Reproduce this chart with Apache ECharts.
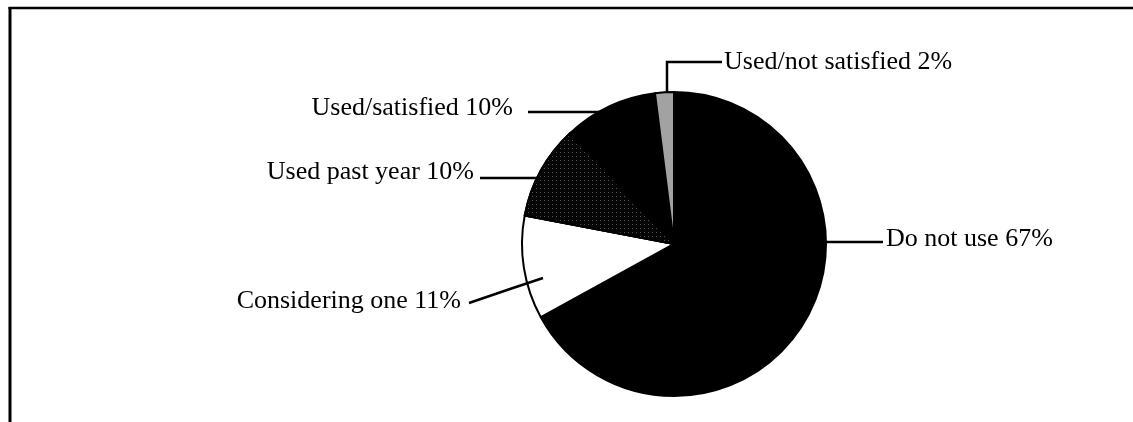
<!DOCTYPE html>
<html>
<head>
<meta charset="utf-8">
<style>
  html, body { margin: 0; padding: 0; background: #fff; }
  #chart { width: 1133px; height: 422px; }
</style>
<script src="https://cdn.jsdelivr.net/npm/echarts@6/dist/echarts.min.js"></script>
</head>
<body>
<div id="chart"></div>
<script>
// ---- data ----
const categories = ['Do not use', 'Considering one', 'Used past year', 'Used/satisfied', 'Used/not satisfied'];
const values = [67, 11, 10, 10, 2];

// ---- styling / layout (not data) ----
const sliceColors = ['#000000', '#ffffff', '#050505', '#000000', '#a2a2a2'];
const pieCenter = [674, 244];
const pieRadius = 152;
// label anchor: [x, y, align], leader points
const labelLayouts = [
  { x: 886, y: 239, align: 'left',  pts: [[826, 242], [855, 242], [883, 242]] },
  { x: 461, y: 301, align: 'right', pts: [[543, 278], [510, 289], [469, 303]] },
  { x: 474, y: 172, align: 'right', pts: [[538, 178], [510, 178], [480, 178]] },
  { x: 513, y: 108, align: 'right', pts: [[600, 112], [565, 112], [528, 112]] },
  { x: 724, y: 62,  align: 'left',  pts: [[667, 92], [667, 62], [722, 62]] }
];

const chart = echarts.init(document.getElementById('chart'), null, { renderer: 'canvas' });

const sliceData = categories.map((name, i) => {
  const item = {
    name: name,
    value: values[i],
    itemStyle: { color: sliceColors[i] }
  };
  if (i === 2) {
    item.itemStyle.decal = {
      symbol: 'rect',
      symbolSize: 1,
      dashArrayX: [1, 3],
      dashArrayY: [1, 3],
      color: 'rgba(120,120,120,0.7)',
      rotation: 0
    };
  }
  return item;
});

const labelData = categories.map((name, i) => ({ name: name, value: values[i] }));

chart.setOption({
  backgroundColor: '#ffffff',
  animation: false,
  graphic: [
    { type: 'line', shape: { x1: 8.5, y1: 8, x2: 1133, y2: 8 }, style: { stroke: '#000', lineWidth: 2.5 } },
    { type: 'line', shape: { x1: 10, y1: 7, x2: 10, y2: 422 }, style: { stroke: '#000', lineWidth: 3 } }
  ],
  series: [{
    type: 'pie',
    z: 2,
    center: pieCenter,
    radius: pieRadius,
    startAngle: 90,
    clockwise: true,
    silent: true,
    data: sliceData,
    itemStyle: { borderColor: '#000', borderWidth: 2 },
    label: { show: false },
    labelLine: { show: false }
  }, {
    type: 'pie',
    z: 5,
    center: pieCenter,
    radius: pieRadius,
    startAngle: 90,
    clockwise: true,
    avoidLabelOverlap: false,
    silent: true,
    data: labelData,
    itemStyle: { color: 'rgba(0,0,0,0)', borderWidth: 0 },
    label: {
      show: true,
      position: 'outside',
      formatter: '{b} {c}%',
      fontFamily: 'Liberation Serif',
      fontSize: 26,
      color: '#000'
    },
    labelLine: {
      show: true,
      smooth: false,
      lineStyle: { color: '#000', width: 2.5 }
    },
    labelLayout: function (params) {
      const L = labelLayouts[params.dataIndex];
      return {
        x: L.x,
        y: L.y,
        align: L.align,
        verticalAlign: 'middle',
        labelLinePoints: L.pts
      };
    }
  }]
});
</script>
</body>
</html>
